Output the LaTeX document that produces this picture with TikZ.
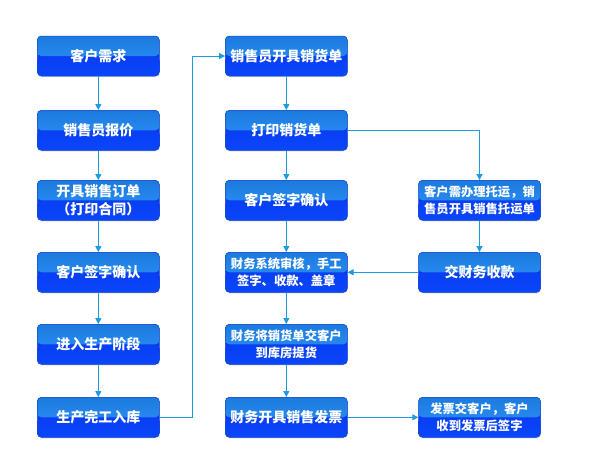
\documentclass[tikz,border=0pt]{standalone}
\usepackage{fontspec}
\newfontfamily\cjk{Noto Sans CJK SC}
\usetikzlibrary{arrows.meta,shadows}
\definecolor{topA}{HTML}{1C7ADE}
\definecolor{topB}{HTML}{38AAF7}
\definecolor{topC}{HTML}{2688EE}
\definecolor{botA}{HTML}{0836EE}
\definecolor{botB}{HTML}{0A46FA}
\definecolor{edge}{HTML}{1A4CC8}
\definecolor{conn}{HTML}{1C9BE2}
\tikzset{
  box/.style={rounded corners=4pt, minimum width=122pt, minimum height=40pt,
    inner sep=1pt, draw=edge, line width=0.5pt, align=center, text=white,
    font=\cjk\bfseries\fontsize{14}{16}\selectfont,
    fill=botA,
    drop shadow={opacity=0.18, shadow xshift=0.6pt, shadow yshift=-1.2pt},
    path picture={
      \shade[top color=botA, bottom color=botB]
        (path picture bounding box.west) rectangle (path picture bounding box.south east);
      \shade[top color=topA, middle color=topB, bottom color=topC]
        (path picture bounding box.north west) rectangle (path picture bounding box.east);
    }},
  small/.style={font=\cjk\bfseries\fontsize{12.3}{17.5}\selectfont},
  arr/.style={draw=conn, line width=1pt, -{Triangle[width=6pt,length=6pt]}}
}
\begin{document}
\begin{tikzpicture}[x=1pt,y=-1pt]
\useasboundingbox (0,0) rectangle (589,451);
\fill[white] (0,0) rectangle (589,451);
% left column
\node[box] (L1) at (98.3,56) {客户需求};
\node[box,small] (L3) at (98.3,200.3) {\fontsize{14}{18}\selectfont 开具销售订单\\ \fontsize{14}{18}\selectfont （打印合同）};
\node[box] (L2) at (98.3,130.3) {销售员报价};
\node[box] (L4) at (98.3,272.3) {客户签字确认};
\node[box] (L5) at (98.3,344.3) {进入生产阶段};
\node[box] (L6) at (98.3,417.3) {生产完工入库};
% middle column
\node[box] (M1) at (286.3,56) {销售员开具销货单};
\node[box] (M2) at (286.3,130.3) {打印销货单};
\node[box] (M3) at (286.3,200.3) {客户签字确认};
\node[box,small] (M4) at (286.3,272.3) {财务系统审核，手工\\签字、收款、盖章};
\node[box,small] (M5) at (286.3,344.3) {财务将销货单交客户\\到库房提货};
\node[box] (M6) at (286.3,417.3) {财务开具销售发票};
% right column
\node[box,small] (R1) at (479.5,200.3) {客户需办理托运，销\\售员开具销售托运单};
\node[box] (R2) at (479.5,272.3) {交财务收款};
\node[box,small] (R3) at (479.5,417.3) {发票交客户，客户\\收到发票后签字};
\coordinate (J) at (192.7,56);
% connectors
\draw[arr] (L1) -- (L2);
\draw[arr] (L2) -- (L3);
\draw[arr] (L3) -- (L4);
\draw[arr] (L4) -- (L5);
\draw[arr] (L5) -- (L6);
\draw[arr] (L6.east) -| (J) -- (M1.west);
\draw[arr] (M1) -- (M2);
\draw[arr] (M2) -- (M3);
\draw[arr] (M3) -- (M4);
\draw[arr] (M4) -- (M5);
\draw[arr] (M5) -- (M6);
\draw[arr] (M2.east) -| (R1.north);
\draw[arr] (R1) -- (R2);
\draw[arr] (R2.west) -- (M4.east);
\draw[arr] (M6.east) -- (R3.west);
\end{tikzpicture}
\end{document}
